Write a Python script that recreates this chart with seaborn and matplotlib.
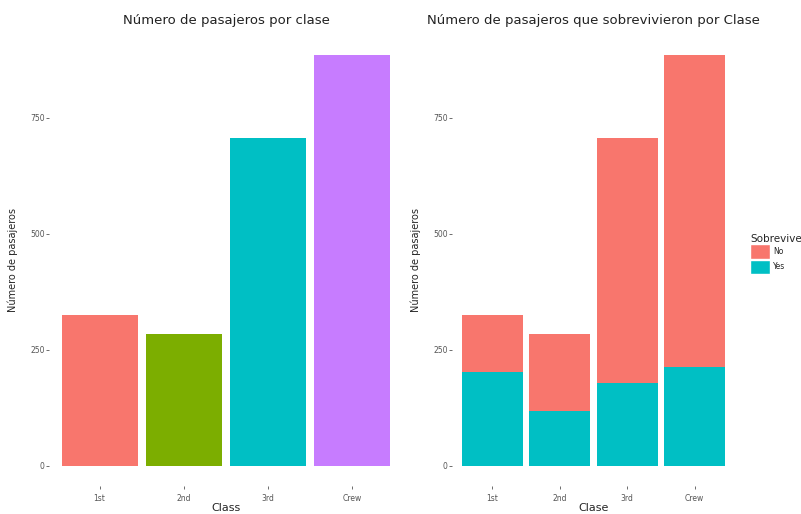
import matplotlib
matplotlib.use("Agg")
import matplotlib.pyplot as plt
import seaborn as sns
import pandas as pd
from matplotlib.patches import Patch

# Titanic counts
clases = ["1st", "2nd", "3rd", "Crew"]
total = [325, 285, 706, 885]
sobrevivieron = [203, 118, 178, 212]
colores_clase = ["#F8766D", "#7CAE00", "#00BFC4", "#C77CFF"]
color_no = "#F8766D"
color_yes = "#00BFC4"
yticks = [0, 250, 500, 750]

df = pd.DataFrame({"Class": clases, "total": total, "yes": sobrevivieron})

sns.set_style("white")
fig = plt.figure(figsize=(8.01, 5.14), dpi=100)
ax1 = fig.add_axes([49 / 801, 1 - 486 / 514, 354 / 801, 451 / 514])
ax2 = fig.add_axes([452 / 801, 1 - 486 / 514, 283 / 801, 451 / 514])

# left: total per class
sns.barplot(data=df, x="Class", y="total", hue="Class", palette=colores_clase,
            width=0.9, legend=False, ax=ax1, saturation=1, linewidth=0)

# right: stacked survived / not survived
sns.barplot(data=df, x="Class", y="total", color=color_no, width=0.9,
            ax=ax2, saturation=1, linewidth=0)
sns.barplot(data=df, x="Class", y="yes", color=color_yes, width=0.9,
            ax=ax2, saturation=1, linewidth=0)

for ax, titulo, xlab in [(ax1, "Número de pasajeros por clase", "Class"),
                         (ax2, "Número de pasajeros que sobrevivieron por Clase", "Clase")]:
    ax.set_xlim(-0.6, 3.6)
    ax.set_ylim(-44, 929)
    ax.set_yticks(yticks)
    ax.set_yticklabels([str(v) for v in yticks])
    for s in ax.spines.values():
        s.set_visible(False)
    ax.tick_params(axis="both", length=2, width=0.6, color="#555555",
                   labelsize=5.5, labelcolor="#555555", pad=1, bottom=True, left=True)
    ax.tick_params(axis="x", pad=4)
    ax.set_xlabel(xlab, fontsize=8, labelpad=0)
    ax.set_ylabel("Número de pasajeros", fontsize=7, labelpad=9)
    ax.set_title(titulo, fontsize=9.5, pad=8, color="#222222")

handles = [Patch(facecolor=color_no, label="No"), Patch(facecolor=color_yes, label="Yes")]
leg = fig.legend(handles=handles, title="Sobrevive", loc="upper left",
                 bbox_to_anchor=(750 / 801, 1 - 234 / 514), frameon=False,
                 fontsize=5.5, title_fontsize=7.5, handlelength=2.6, handleheight=2.6,
                 handletextpad=0.4, labelspacing=0.05, borderaxespad=0, borderpad=0)
leg._legend_box.align = "left"

fig.savefig("out.png", dpi=100)
